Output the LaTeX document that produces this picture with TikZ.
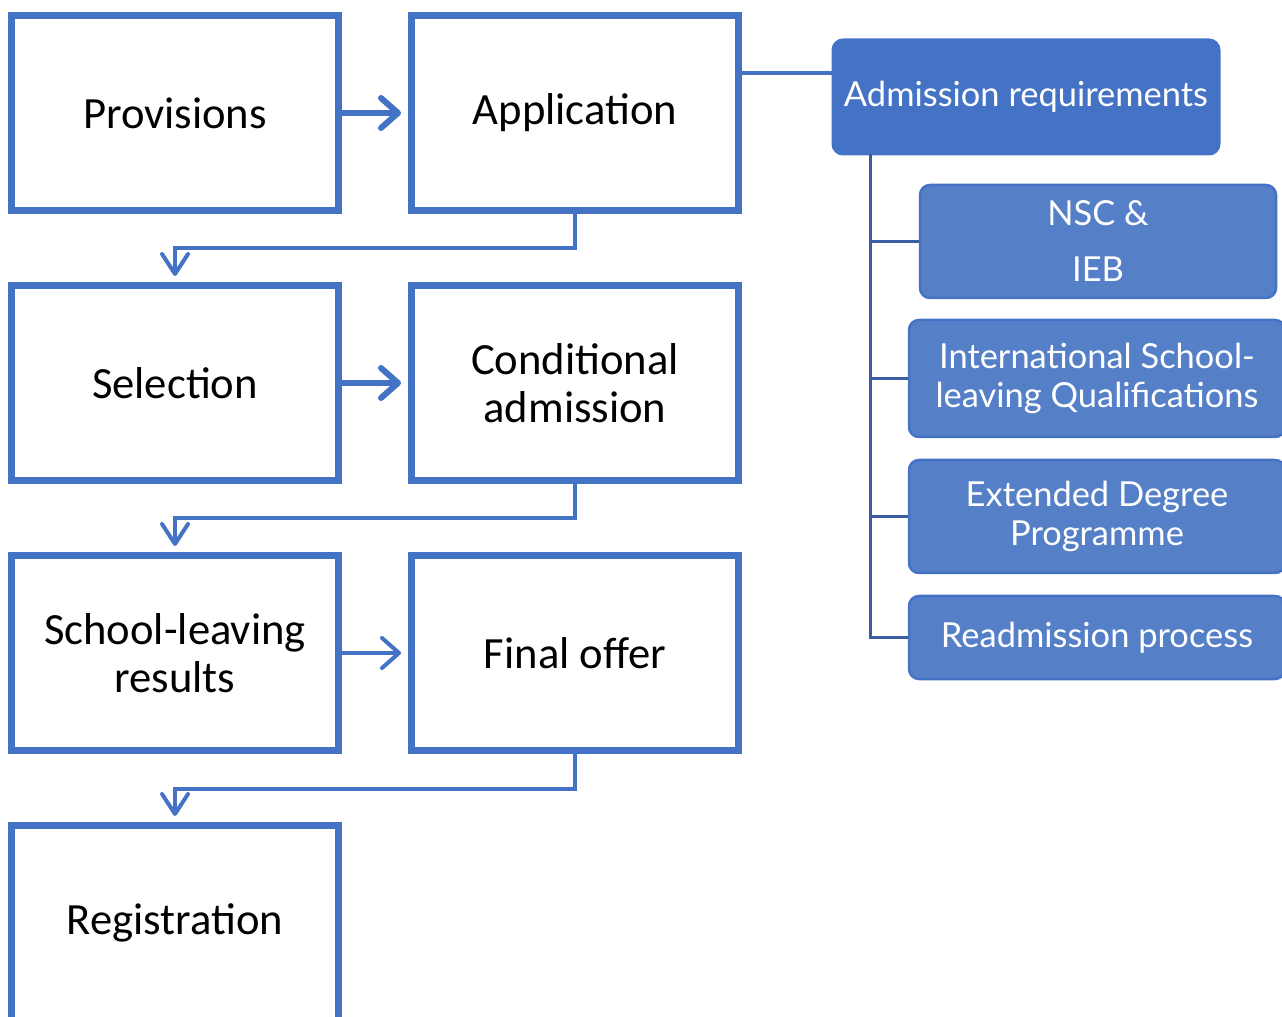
\documentclass[tikz,border=0pt]{standalone}
\usepackage{fontspec}
\setmainfont{Carlito}
\newfontfamily\gillfont{Lato}
\usetikzlibrary{arrows.meta,positioning}
\definecolor{boxblue}{RGB}{68,114,196}
\definecolor{subblue}{RGB}{85,128,200}
\definecolor{treeblue}{RGB}{56,93,160}

\begin{document}
\begin{tikzpicture}

\tikzset{
  stagebox/.style={draw=boxblue, line width=0.07cm, fill=white,
    minimum width=3.27cm, minimum height=1.95cm, inner sep=0pt,
    align=center, font=\fontsize{12.7}{13.8}\selectfont},
  reqbox/.style={draw=boxblue, line width=0.03cm, fill=boxblue,
    rounded corners=0.1cm, text=white, inner sep=0pt, align=center,
    font=\gillfont\fontsize{9.8}{11.1}\selectfont},
  subbox/.style={reqbox, fill=subblue, line width=0.025cm},
  nextarrow/.style={draw=boxblue, line width=#1,
    -{Straight Barb[length=0.17cm, width=0.3cm, round]}},
  nextarrow/.default=0.06cm,
  downarrow/.style={draw=boxblue, line width=0.04cm,
    -{Straight Barb[length=0.2cm, width=0.26cm, round]}, shorten >=0.06cm},
  tree/.style={draw=treeblue, line width=0.03cm}
}

\useasboundingbox (0,0) rectangle (12.82,-10.17);
\clip (0,0) rectangle (12.82,-10.17);

% stages
\node[stagebox] (prov) at (1.75,-1.13) {Provisions};
\node[stagebox] (appl) at (5.75,-1.13) {Application};
\node[stagebox] (sel) at (1.75,-3.83) {Selection};
\node[stagebox] (cond) at (5.75,-3.83) {Conditional\\admission};
\node[stagebox] (res) at (1.75,-6.53) {School-leaving\\results};
\node[stagebox] (offer) at (5.75,-6.53) {Final offer};
\node[stagebox] (reg) at (1.75,-9.23) {Registration};

\draw[nextarrow] (prov) -- ([xshift=-0.07cm]appl.west);
\draw[nextarrow] (sel) -- ([xshift=-0.07cm]cond.west);
\draw[nextarrow=0.04cm] (res) -- ([xshift=-0.07cm]offer.west);

\draw[downarrow] (appl.south) -- ++(0,-0.345) -| (sel.north);
\draw[downarrow] (cond.south) -- ++(0,-0.345) -| (res.north);
\draw[downarrow] (offer.south) -- ++(0,-0.345) -| (reg.north);

% requirements
\node[reqbox, minimum width=3.86cm, minimum height=1.14cm] (adm) at (10.26,-0.97)
  {Admission requirements};
\node[subbox, minimum width=3.56cm, minimum height=1.13cm] (nsc) at (10.98,-2.415)
  {NSC \&\\[0.17cm]IEB};
\node[subbox, minimum width=3.76cm, minimum height=1.17cm] (intl) at (10.97,-3.785)
  {International School-\\leaving Qualifications};
\node[subbox, minimum width=3.76cm, minimum height=1.13cm] (edp) at (10.97,-5.165)
  {Extended Degree\\Programme};
\node[subbox, minimum width=3.76cm, minimum height=0.83cm] (readm) at (10.97,-6.375)
  {Readmission process};

\draw[draw=boxblue, line width=0.04cm] ([yshift=0.4cm]appl.east)
  -- ([yshift=0.4cm]appl.east -| adm.west);

\coordinate (trunk) at (8.70,-1.54);
\draw[tree] (trunk) |- (readm.west);
\draw[tree] (trunk |- nsc.west) -- (nsc.west);
\draw[tree] (trunk |- intl.west) -- (intl.west);
\draw[tree] (trunk |- edp.west) -- (edp.west);

\end{tikzpicture}
\end{document}
